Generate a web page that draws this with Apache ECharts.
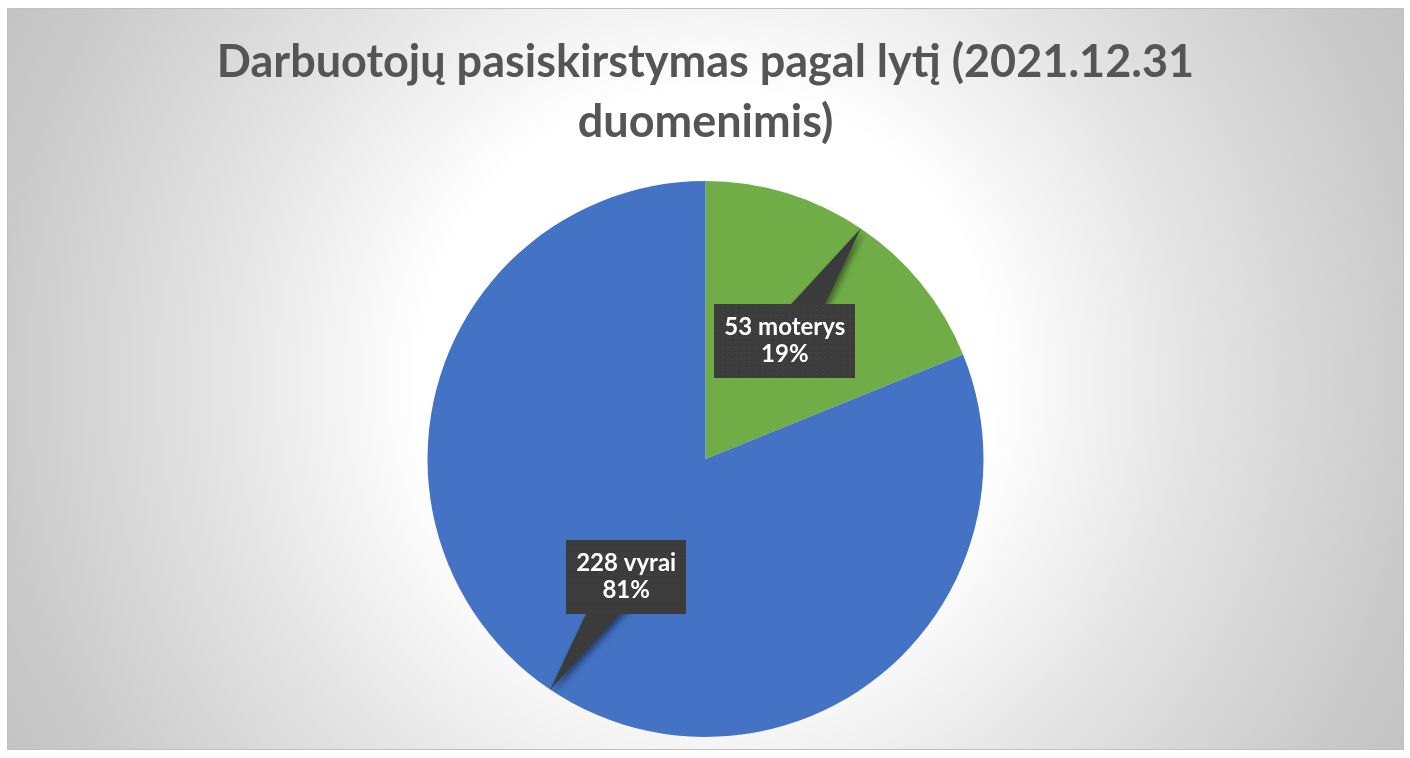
<!DOCTYPE html>
<html>
<head>
<meta charset="utf-8">
<script src="https://cdn.jsdelivr.net/npm/echarts@6/dist/echarts.min.js"></script>
<style>
  html, body { margin: 0; padding: 0; background: #ffffff; }
  #chart { position: absolute; left: 7px; top: 8px; width: 1397px; height: 742px; box-sizing: border-box; border: 1px solid #c0c0c0; }
</style>
</head>
<body>
<div id="chart"></div>
<script>
const titleLines = ['Darbuotojų pasiskirstymas pagal lytį (2021.12.31', 'duomenimis)'];
const categories = ['moterys', 'vyrai'];
const values = [53, 228];
const colors = ['#70AD47', '#4472C4'];

const chart = echarts.init(document.getElementById('chart'), null, { renderer: 'canvas' });
const W = chart.getWidth(), H = chart.getHeight();
const pieCenter = [W * 0.5, 450];
const pieRadius = 278;

function makeTexture(w, h) {
  const c = document.createElement('canvas');
  c.width = w; c.height = h;
  const ctx = c.getContext('2d');
  ctx.fillStyle = '#3b3b3b';
  ctx.fillRect(0, 0, w, h);
  ctx.fillStyle = '#505050';
  for (let y = 2, row = 0; y < h; y += 5, row++) {
    for (let x = (row % 2) ? 4 : 1.5; x < w; x += 5) {
      ctx.fillRect(x, y, 1.5, 1.5);
    }
  }
  return c;
}
const texture = makeTexture(300, 150);

const data = categories.map((n, i) => ({ name: n, value: values[i], itemStyle: { color: colors[i] } }));

// pointer triangles for the callouts, derived from the pie geometry
function pointers() {
  const total = values.reduce((a, b) => a + b, 0);
  let cum = 0;
  const out = [];
  values.forEach((v, i) => {
    const span = v / total * 360;
    const mid = (90 - (cum + span / 2)) * Math.PI / 180;
    cum += span;
    const dx = Math.cos(mid), dy = -Math.sin(mid);
    const tip = [pieCenter[0] + dx * pieRadius, pieCenter[1] + dy * pieRadius];
    const lc = [pieCenter[0] + dx * pieRadius * 0.5, pieCenter[1] + dy * pieRadius * 0.5];
    const px = -dy, py = dx;
    const b = [lc[0] + dx * 8, lc[1] + dy * 8];
    out.push({
      type: 'polygon',
      z: 3,
      shape: { points: [tip, [b[0] + px * 20, b[1] + py * 20], [b[0] - px * 20, b[1] - py * 20]] },
      style: { fill: '#3b3b3b', shadowBlur: 6, shadowColor: 'rgba(0,0,0,0.45)', shadowOffsetX: 3, shadowOffsetY: 3 },
      silent: true
    });
  });
  return out;
}

const titleStyle = {
  fontFamily: 'Lato',
  fontWeight: 'bold',
  fontSize: 45,
  lineHeight: 60,
  color: '#555555'
};

const option = {
  backgroundColor: {
    type: 'radial', x: 0.5, y: 0.5, r: 1.08,
    colorStops: [
      { offset: 0, color: '#ffffff' },
      { offset: 0.36, color: '#ffffff' },
      { offset: 0.62, color: '#e3e3e3' },
      { offset: 0.88, color: '#cbcbcb' },
      { offset: 1, color: '#c3c3c3' }
    ]
  },
  title: titleLines.map((t, i) => ({
    text: t,
    left: 'center',
    top: 23 + i * 60,
    padding: 0,
    textStyle: titleStyle
  })),
  graphic: pointers(),
  series: [
    {
      type: 'pie',
      z: 2,
      center: pieCenter,
      radius: pieRadius,
      startAngle: 90,
      clockwise: true,
      silent: true,
      label: { show: false },
      labelLine: { show: false },
      itemStyle: { borderWidth: 0 },
      data: data
    },
    {
      type: 'pie',
      z: 4,
      center: pieCenter,
      radius: pieRadius,
      startAngle: 90,
      clockwise: true,
      silent: true,
      itemStyle: { color: 'rgba(0,0,0,0)', borderWidth: 0 },
      label: {
        show: true,
        position: 'inside',
        formatter: p => p.value + ' ' + p.name + '\n' + Math.round(p.percent) + '%',
        color: '#ffffff',
        fontFamily: 'Lato',
        fontWeight: 'bold',
        fontSize: 24,
        lineHeight: 27,
        align: 'center',
        padding: [10, 10],
        backgroundColor: { image: texture },
        shadowBlur: 6,
        shadowColor: 'rgba(0,0,0,0.45)',
        shadowOffsetX: 3,
        shadowOffsetY: 3
      },
      labelLine: { show: false },
      data: categories.map((n, i) => ({ name: n, value: values[i] }))
    }
  ]
};
chart.setOption(option);
</script>
</body>
</html>
